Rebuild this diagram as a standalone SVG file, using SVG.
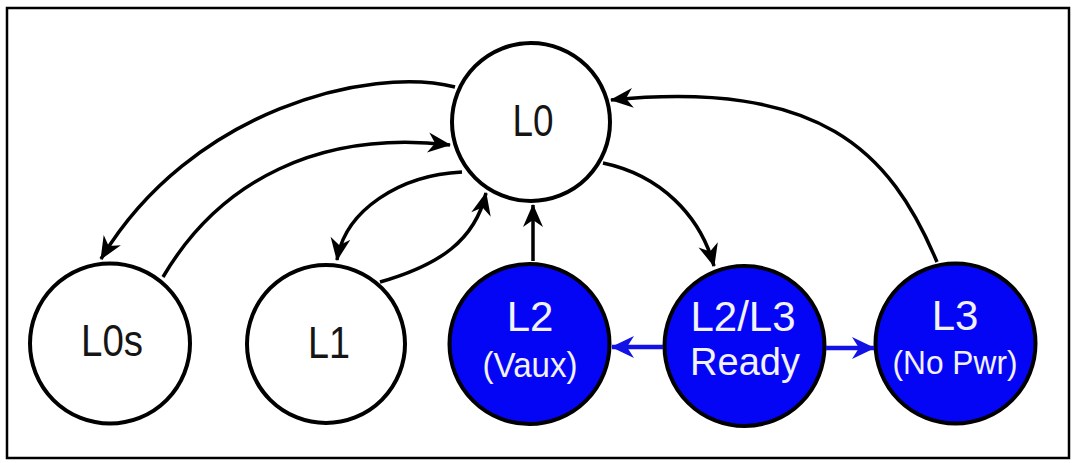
<svg xmlns="http://www.w3.org/2000/svg" width="1076" height="463" viewBox="0 0 1076 463">
<defs>
<style>
.frame{fill:#fff;stroke:#000;stroke-width:2.5}
.wnode{fill:#fff;stroke:#000;stroke-width:4}
.bnode{fill:#0505f5;stroke:#000;stroke-width:4}
.wt{font-family:"Liberation Sans",Arial,sans-serif;fill:#151515;text-anchor:middle}
.bt{font-family:"Liberation Sans",Arial,sans-serif;fill:#f2f2ff;text-anchor:middle}
.conn{fill:none;stroke:#000;stroke-width:3.5;marker-end:url(#ah)}
.bconn{fill:none;stroke:#1212e6;stroke-width:4.5;marker-end:url(#bh)}
</style>
<marker id="ah" markerUnits="userSpaceOnUse" viewBox="-24 -12 26 24" refX="0" refY="0" markerWidth="26" markerHeight="24" orient="auto">
<path d="M1,0 L-22,-10 L-15,0 L-22,10 Z" fill="#000"/>
</marker>
<marker id="bh" markerUnits="userSpaceOnUse" viewBox="-24 -12 26 24" refX="0" refY="0" markerWidth="26" markerHeight="24" orient="auto">
<path d="M1,0 L-22,-11 L-15,0 L-22,11 Z" fill="#1212e6"/>
</marker>
</defs>
<rect class="frame" x="7" y="8" width="1062" height="450"/>
<g id="L0"><circle class="wnode" cx="531" cy="122" r="79"/><text class="wt" x="533" y="135.5" font-size="45" textLength="41" lengthAdjust="spacingAndGlyphs">L0</text></g>
<g id="L0s"><circle class="wnode" cx="110" cy="343.5" r="80"/><text class="wt" x="112" y="356" font-size="45" textLength="62" lengthAdjust="spacingAndGlyphs">L0s</text></g>
<g id="L1"><circle class="wnode" cx="326" cy="344" r="79"/><text class="wt" x="329" y="357.5" font-size="45" textLength="42" lengthAdjust="spacingAndGlyphs">L1</text></g>
<g id="L2"><circle class="bnode" cx="529.5" cy="344" r="80"/><text class="bt" x="530" y="331" font-size="42">L2</text><text class="bt" x="530" y="377" font-size="35" textLength="95" lengthAdjust="spacingAndGlyphs">(Vaux)</text></g>
<g id="L2L3"><circle class="bnode" cx="744.5" cy="346" r="80"/><text class="bt" x="743" y="331" font-size="42">L2/L3</text><text class="bt" x="745" y="375" font-size="38">Ready</text></g>
<g id="L3"><circle class="bnode" cx="955.5" cy="343.5" r="80"/><text class="bt" x="955" y="330" font-size="42">L3</text><text class="bt" x="955" y="374" font-size="34" textLength="125" lengthAdjust="spacingAndGlyphs">(No Pwr)</text></g>
<g id="connectors">
<path class="conn" d="M455,87 C370,65 190,110 101,259"/>
<path class="conn" d="M163,277 C220,180 320,130 450,145"/>
<path class="conn" d="M462,172 C400,175 345,210 337,260"/>
<path class="conn" d="M380,282 C440,265 475,240 486,193"/>
<path class="conn" d="M533,261 L533,205"/>
<path class="conn" d="M603,163 C660,175 700,215 714,266"/>
<path class="conn" d="M937,262 C890,150 820,80 611,100"/>
<path class="bconn" d="M663,347 L612,347"/>
<path class="bconn" d="M826,348 L874,348"/>
</g>
</svg>
